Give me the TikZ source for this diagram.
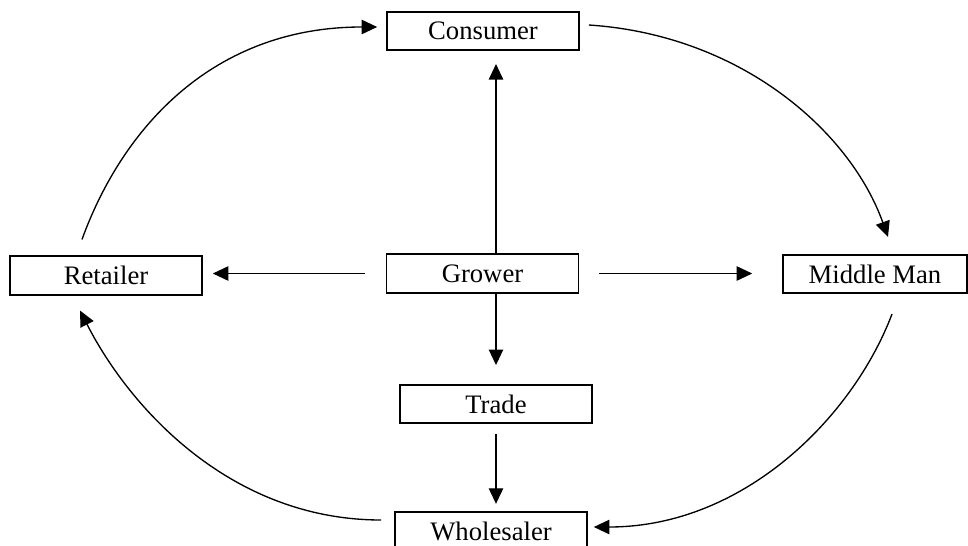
\documentclass[tikz,border=0pt,12pt]{standalone}
\usepackage{fontspec}
\setmainfont{Liberation Serif}
\usetikzlibrary{arrows.meta}

\begin{document}
\begin{tikzpicture}[x=0.45pt, y=-0.45pt,
    box/.style={draw, line width=0.75pt, inner sep=0pt, minimum width=86.4pt, minimum height=17.3pt},
    conn/.style={line width=0.6pt, -{Triangle[length=7pt, width=6.5pt]}}]
    \useasboundingbox (0, 0) rectangle (968, 546);

    \node[box] (consumer) at (483, 31) {Consumer};
    \node[box] (retailer) at (106, 275.5) {Retailer};
    \node[box] (grower) at (482.5, 273.5) {Grower};
    \node[box, minimum width=82.8pt] (middle) at (875, 274) {Middle Man};
    \node[box] (trade) at (496, 404) {Trade};
    \node[box] (wholesaler) at (491, 531) {Wholesaler};

    \draw[conn, shorten <=9.45pt, shorten >=4.5pt] (grower.west) -- (grower.west -| retailer.east);
    \draw[conn, shorten <=9pt, shorten >=13.5pt] (grower.east) -- (grower.east -| middle.west);
    \draw[conn, shorten >=5.85pt] (grower.north -| trade.north) -- (consumer.south -| trade.north);
    \draw[conn, shorten >=8.5pt] (grower.south -| trade.north) -- (trade.north);
    \draw[conn, shorten <=4.5pt, shorten >=3.2pt] (trade.south) -- (trade.south |- wholesaler.north);

    \draw[conn] ([shift={(-24,-16)}]retailer.north) .. controls +(41,-113) and +(-163,0) .. ([shift={(-9,-4)}]consumer.west);
    \draw[conn] ([shift={(9,-6)}]consumer.east) .. controls +(152,10) and +(-38,-106) .. ([shift={(13,-17)}]middle.north);
    \draw[conn] ([shift={(17,20)}]middle.south) .. controls +(-39,103) and +(150,0) .. ([shift={(6,-4)}]wholesaler.east);
    \draw[conn] ([shift={(-13,-11)}]wholesaler.west) .. controls +(-150,0) and +(50,98) .. ([shift={(-26,15)}]retailer.south);
\end{tikzpicture}
\end{document}
